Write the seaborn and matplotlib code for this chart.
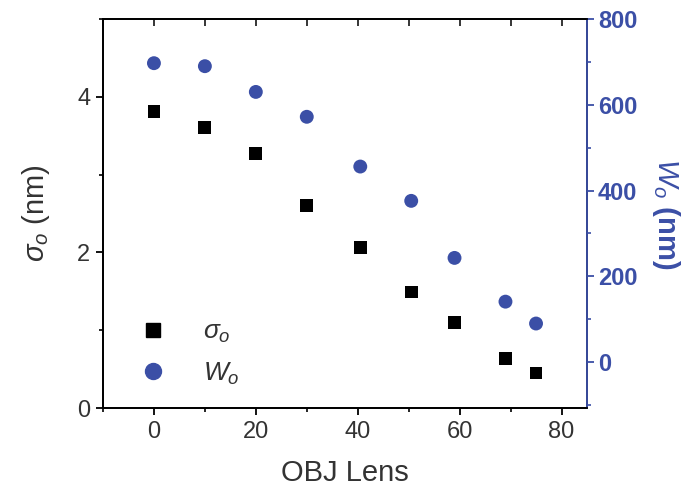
import numpy as np
import pandas as pd
import matplotlib
matplotlib.use("Agg")
import matplotlib.pyplot as plt
from matplotlib.ticker import MultipleLocator
from matplotlib.lines import Line2D
import seaborn as sns

# data
obj_lens = [0, 10, 20, 30, 40.5, 50.5, 59, 69, 75]
sigma_o = [3.81, 3.61, 3.27, 2.60, 2.06, 1.49, 1.10, 0.64, 0.45]
w_o = [697, 690, 630, 572, 456, 376, 243, 141, 90]

blue = "#3b4fa6"
text_col = "#333333"

sns.set_style("white")
plt.rcParams["font.family"] = ["Liberation Sans", "DejaVu Sans"]
plt.rcParams["mathtext.fontset"] = "custom"
plt.rcParams["mathtext.it"] = "Liberation Sans:italic"
plt.rcParams["mathtext.rm"] = "Liberation Sans"

df = pd.DataFrame({"lens": obj_lens, "sigma": sigma_o, "w": w_o})

fig = plt.figure(figsize=(6.94, 4.91), dpi=100)
ax = fig.add_axes([0.1484, 0.169, 0.6974, 0.7923])
ax2 = ax.twinx()

sns.scatterplot(data=df, x="lens", y="sigma", ax=ax, marker="s", s=85,
                color="black", edgecolor="none", linewidth=0)
sns.scatterplot(data=df, x="lens", y="w", ax=ax2, marker="o", s=100,
                color=blue, edgecolor="none", linewidth=0)

ax.set_xlim(-10, 85)
ax.set_ylim(0, 5)
ax2.set_ylim(-107, 800)

ax.xaxis.set_major_locator(MultipleLocator(20))
ax.xaxis.set_minor_locator(MultipleLocator(10))
ax.yaxis.set_major_locator(MultipleLocator(2))
ax.yaxis.set_minor_locator(MultipleLocator(1))
ax2.yaxis.set_major_locator(MultipleLocator(200))
ax2.yaxis.set_minor_locator(MultipleLocator(100))

for a in (ax, ax2):
    for sp in a.spines.values():
        sp.set_linewidth(1.3)
        sp.set_color("black")
ax2.spines["right"].set_color(blue)

ax.tick_params(axis="both", which="major", direction="out", length=5, width=1.3,
               labelsize=17, labelcolor=text_col, color="black",
               bottom=True, left=True, pad=4)
ax.tick_params(axis="both", which="minor", direction="out", length=3, width=1.2,
               bottom=True, left=True, color="black")
ax2.tick_params(axis="y", which="major", direction="out", length=5, width=1.3,
                labelsize=17, labelcolor=blue, color=blue, pad=3)
ax2.tick_params(axis="y", which="minor", direction="out", length=3, width=1.2,
                color=blue)
for lab in ax2.get_yticklabels():
    lab.set_fontweight("bold")

# mirrored ticks on the top spine, pointing inward
top = ax.secondary_xaxis("top")
top.xaxis.set_major_locator(MultipleLocator(10))
top.tick_params(axis="x", direction="in", length=5, width=1.3, labeltop=False)
top.spines["top"].set_visible(False)

ax.set_xlabel("OBJ Lens", fontsize=21, color=text_col, labelpad=12)
ax.set_ylabel(r"$\sigma_{o}$ (nm)", fontsize=21, color=text_col, labelpad=18)
ax2.set_ylabel(r"$W_{o}$ (nm)", fontsize=21, color=blue, rotation=270,
               labelpad=32, fontweight="bold")

handles = [
    Line2D([], [], marker="s", linestyle="none", color="black", markersize=10),
    Line2D([], [], marker="o", linestyle="none", color=blue, markersize=11.5),
]
ax.legend(handles, [r"$\sigma_{o}$", r"$W_{o}$"], loc="lower left",
          bbox_to_anchor=(0.027, -0.006), frameon=False, fontsize=19,
          handlelength=1.0, handletextpad=1.4, labelspacing=0.57,
          labelcolor=text_col)

fig.savefig("out.png", dpi=100)
